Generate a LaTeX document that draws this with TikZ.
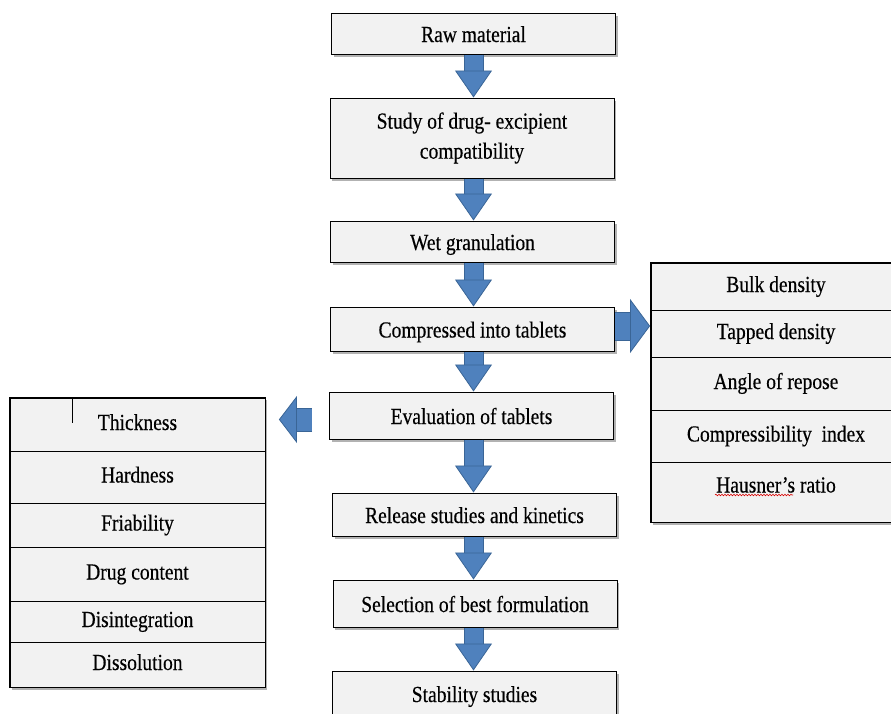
\documentclass[tikz,border=0pt]{standalone}
\usepackage{fontspec}
\setmainfont[FakeStretch=0.85, FakeBold=0.4]{Liberation Serif}
\usetikzlibrary{arrows.meta, shadows, positioning, fit, backgrounds,
  decorations.pathmorphing}

\definecolor{boxgray}{HTML}{F2F2F2}
\definecolor{arrowblue}{HTML}{4F81BD}
\definecolor{arrowedge}{HTML}{3A6596}

\tikzset{
  stepbox/.style={draw, line width=1pt, fill=boxgray, minimum width=284pt,
    align=center, inner sep=1pt,
    drop shadow={shadow xshift=2pt, shadow yshift=-2.5pt, fill=black!60}},
  oneline/.style={text height=17pt, text depth=0pt},
  cell/.style={draw, line width=0.9pt, fill=boxgray, inner sep=0pt,
    text height=16pt, text depth=5pt},
  rcell/.style={cell, minimum width=250pt},
  lcell/.style={cell, minimum width=255pt},
  tablebox/.style={draw, line width=0.9pt, fill=boxgray, inner sep=0pt,
    drop shadow={shadow xshift=2pt, shadow yshift=-2.5pt, fill=black!60}},
  downarrow/.style={line width=18pt, draw=arrowblue,
    -{Triangle[width=37pt, length=27pt, line width=0.8pt, color=arrowedge, fill=arrowblue]},
    preaction={draw=arrowedge, line width=20pt, -, shorten >=26pt}},
  rightarrow/.style={line width=27pt, draw=arrowblue,
    -{Triangle[width=54pt, length=20pt, line width=0.8pt, color=arrowedge, fill=arrowblue]},
    preaction={draw=arrowedge, line width=29pt, -, shorten >=19pt}},
  leftarrow/.style={line width=22pt, draw=arrowblue,
    -{Triangle[width=47pt, length=18pt, line width=0.8pt, color=arrowedge, fill=arrowblue]},
    preaction={draw=arrowedge, line width=24pt, -, shorten >=17pt}},
  spellmark/.style={red!85!black, line width=0.6pt, decorate,
    decoration={snake, amplitude=0.8pt, segment length=3pt}}
}

\begin{document}
\begin{tikzpicture}[x=1pt, y=-1pt, font=\fontsize{23}{30}\selectfont]
    \useasboundingbox (0,0) rectangle (891,713);

    % main steps
    \node[stepbox, oneline, minimum height=41pt] at (473.5, 33.5) (raw) {Raw material};
    \node[stepbox, minimum height=80pt] at (472, 138) (study) {Study of drug- excipient\\compatibility};
    \node[stepbox, oneline, minimum height=41pt] at (472.5, 241.5) (wet) {Wet granulation};
    \node[stepbox, oneline, minimum height=44pt] at (472.5, 329) (comp) {Compressed into tablets};
    \node[stepbox, oneline, minimum height=47pt] at (471.5, 415.5) (eval) {Evaluation of tablets};
    \node[stepbox, oneline, minimum height=43pt] at (474.5, 514.5) (release) {Release studies and kinetics};
    \node[stepbox, oneline, minimum height=47pt] at (475, 603.5) (select) {Selection of best formulation};
    \node[stepbox, oneline, minimum height=45pt] at (474.5, 693.5) (stab) {Stability studies};

    % granule tests
    \node[rcell, minimum height=47pt] at (776, 286.5) (bulk) {Bulk density};
    \node[rcell, minimum height=47pt] at (776, 333.5) (tapped) {Tapped density};
    \node[rcell, minimum height=53pt] at (776, 383.5) (repose) {Angle of repose};
    \node[rcell, minimum height=52pt] at (776, 436) (carr) {Compressibility\ \ index};
    \node[rcell, minimum height=60pt, text depth=15pt] at (776, 492) (hausner) {Hausner’s ratio};

    % tablet tests
    \node[lcell, minimum height=53pt] at (137.5, 424.5) (thick) {Thickness};
    \node[lcell, minimum height=52pt] at (137.5, 477) (hard) {Hardness};
    \node[lcell, minimum height=44pt] at (137.5, 525) (friab) {Friability};
    \node[lcell, minimum height=54pt] at (137.5, 574) (content) {Drug content};
    \node[lcell, minimum height=41pt] at (137.5, 621.5) (disint) {Disintegration};
    \node[lcell, minimum height=45pt] at (137.5, 664.5) (dissol) {Dissolution};

    \begin{scope}[on background layer]
        \node[tablebox, fit=(bulk)(hausner)] (rtable) {};
        \node[tablebox, fit=(thick)(dissol)] (ltable) {};
    \end{scope}

    \draw[line width=1.3pt] ([xshift=63pt]thick.north west) -- ++(0,25);
    \draw[spellmark] ([xshift=-61pt, yshift=-3pt]hausner.center) -- ++(78,0);

    \draw[downarrow] (raw.south) -- (raw.south |- study.north);
    \draw[downarrow] (study.south -| raw.south) -- (raw.south |- wet.north);
    \draw[downarrow] (wet.south -| raw.south) -- (raw.south |- comp.north);
    \draw[downarrow] (comp.south -| raw.south) -- (raw.south |- eval.north);
    \draw[downarrow] (eval.south -| raw.south) -- (raw.south |- release.north);
    \draw[downarrow] (release.south -| raw.south) -- (raw.south |- select.north);
    \draw[downarrow] (select.south -| raw.south) -- (raw.south |- stab.north);
    \draw[rightarrow] ([yshift=3pt]comp.east) -- ([yshift=3pt]comp.east -| rtable.west);
    \draw[leftarrow] ([xshift=-17pt, yshift=-4pt]eval.west) -- ([xshift=13pt, yshift=-4pt]eval.west -| ltable.east);
\end{tikzpicture}
\end{document}
